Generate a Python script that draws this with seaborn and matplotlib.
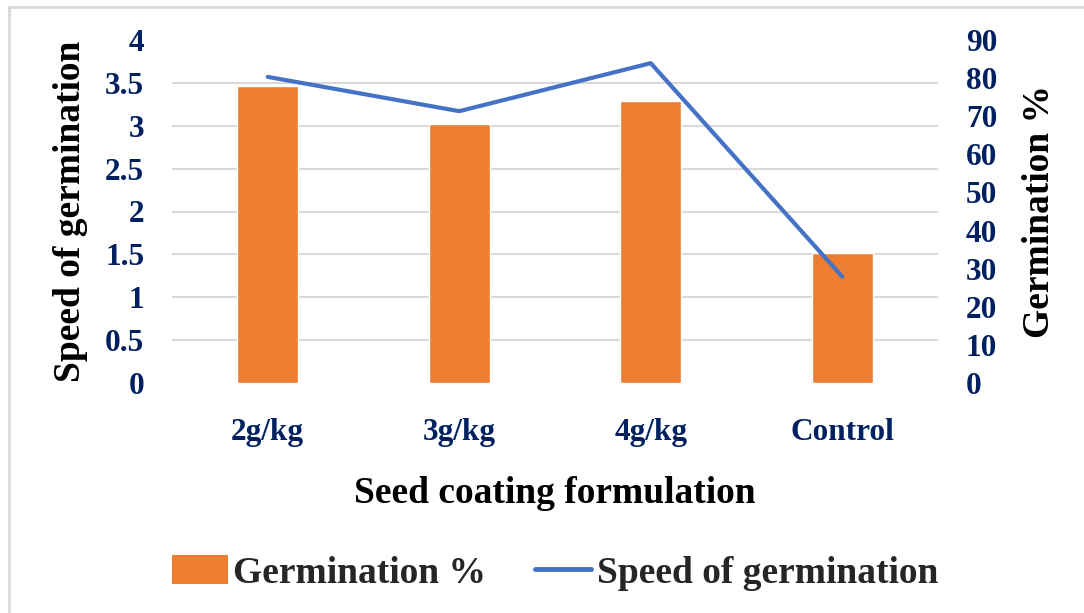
import numpy as np
import seaborn as sns
import matplotlib.pyplot as plt
from matplotlib.lines import Line2D
from matplotlib.patches import Patch

# data
formulations = ['2g/kg', '3g/kg', '4g/kg', 'Control']
germination_pct = [78.0, 68.0, 74.0, 34.0]
speed_of_germination = [3.57, 3.17, 3.73, 1.24]

bar_color = '#ED7D31'
line_color = '#4472C4'
tick_color = '#002060'
grid_color = '#D9D9D9'

sns.set_theme(style='white')
plt.rcParams['font.family'] = ['Liberation Serif', 'DejaVu Serif']
plt.rcParams['font.weight'] = 'bold'

fig = plt.figure(figsize=(10.84, 6.13), dpi=100)
ax = fig.add_axes([172 / 1084, 1 - 383 / 613, 766 / 1084, 343 / 613])
ax2 = ax.twinx()

# bars on the right-hand scale (drawn underneath)
sns.barplot(x=formulations, y=germination_pct, color=bar_color, width=0.32,
            saturation=1, ax=ax, zorder=2)
ax.set_ylim(0, 90)
ax.set_yticks(np.arange(0, 91, 10))
# gridlines follow the left scale (0.5 steps of 0..4)
ax.set_yticks(np.linspace(0, 90, 9), minor=True)
ax.grid(which='minor', axis='y', color=grid_color, linewidth=1.5, zorder=0)
ax.grid(which='major', visible=False)
ax.set_axisbelow(True)
ax.set_xlim(-0.5, 3.5)
ax.set_xlabel('Seed coating formulation', fontsize=27, fontweight='bold', color='black')
ax.xaxis.set_label_coords(0.5, -0.27)
ax.tick_params(axis='x', labelsize=22.5, labelcolor=tick_color, length=0, pad=25)
for s in ax.spines.values():
    s.set_visible(False)

# line on the left-hand scale (drawn on top)
sns.lineplot(x=np.arange(len(formulations)), y=speed_of_germination, ax=ax2,
             color=line_color, linewidth=3, sort=False)
ax2.set_ylim(0, 4)
ax2.set_yticks(np.arange(0, 4.01, 0.5))
ax2.set_yticklabels(['0', '0.5', '1', '1.5', '2', '2.5', '3', '3.5', '4'])
ax2.set_xlim(-0.5, 3.5)
for s in ax2.spines.values():
    s.set_visible(False)

# swap the sides: speed on the left, germination % on the right
ax.yaxis.tick_right()
ax.yaxis.set_label_position('right')
ax.set_ylabel('Germination %', fontsize=27, fontweight='bold', color='black')
ax.yaxis.set_label_coords(1.11, 0.5)
ax.tick_params(axis='y', which='both', labelsize=22.5, labelcolor=tick_color,
               length=0, pad=20, left=False, labelleft=False,
               right=True, labelright=True)
ax.tick_params(axis='y', which='minor', labelright=False)

ax2.yaxis.tick_left()
ax2.yaxis.set_label_position('left')
ax2.set_ylabel('Speed of germination', fontsize=27, fontweight='bold', color='black')
ax2.yaxis.set_label_coords(-0.11, 0.5)
ax2.tick_params(axis='y', labelsize=22.5, labelcolor=tick_color, length=0, pad=20,
                right=False, labelright=False, left=True, labelleft=True)

handles = [Patch(facecolor=bar_color, edgecolor='none'),
           Line2D([], [], color=line_color, linewidth=3.5)]
fig.legend(handles, ['Germination %', 'Speed of germination'], loc='center',
           bbox_to_anchor=(555 / 1084, 1 - 573 / 613), ncol=2, frameon=False,
           prop={'family': 'Liberation Serif', 'weight': 'bold', 'size': 27},
           handlelength=1.5, handleheight=0.8, handletextpad=0.15,
           columnspacing=1.3)

# light frame on top and left edges like the original screenshot
fig.add_artist(Line2D([9 / 1084, 1], [1 - 7 / 613, 1 - 7 / 613],
                      color=grid_color, linewidth=2, transform=fig.transFigure))
fig.add_artist(Line2D([9 / 1084, 9 / 1084], [0, 1 - 7 / 613],
                      color=grid_color, linewidth=2, transform=fig.transFigure))

fig.savefig('out.png', dpi=100)
plt.close(fig)
